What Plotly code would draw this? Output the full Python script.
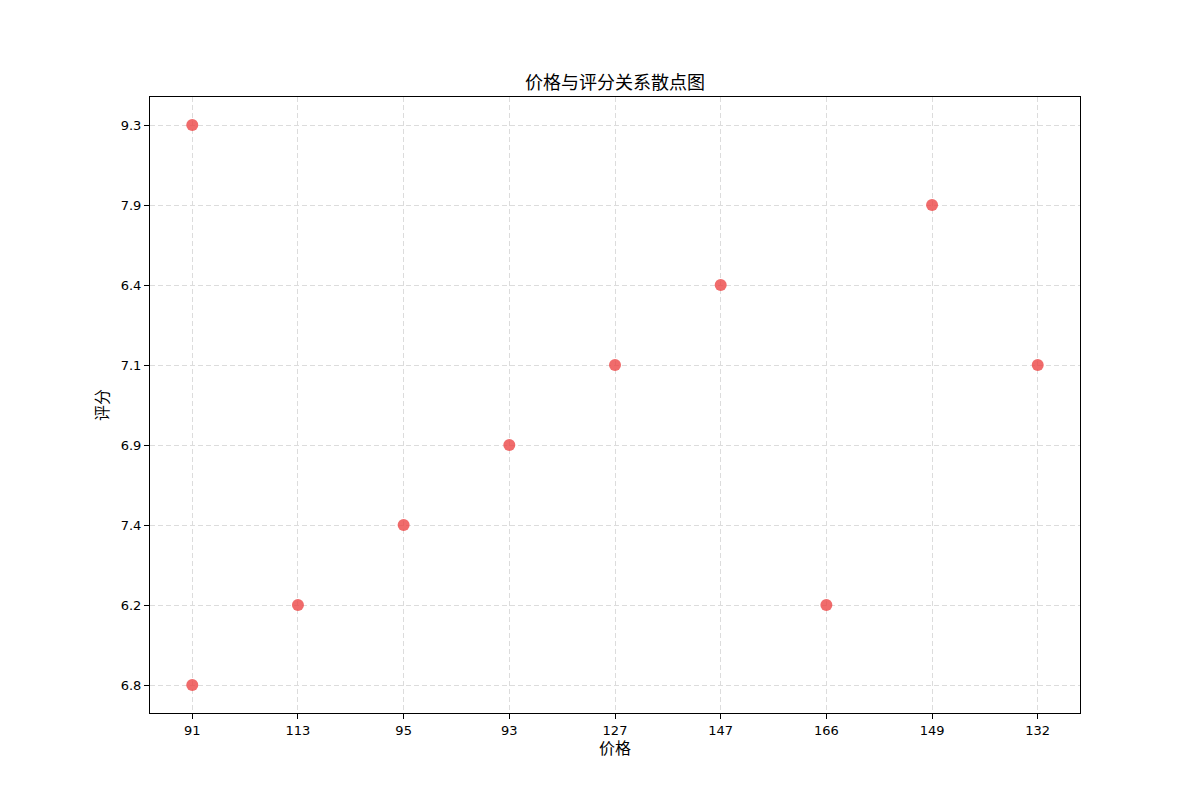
import plotly.graph_objects as go

x_categories = ["91", "113", "95", "93", "127", "147", "166", "149", "132"]
y_categories = ["6.8", "6.2", "7.4", "6.9", "7.1", "6.4", "7.9", "9.3"]

x_values = ["91", "113", "95", "93", "127", "147", "166", "149", "132", "91"]
y_values = ["6.8", "6.2", "7.4", "6.9", "7.1", "6.4", "6.2", "7.9", "7.1", "9.3"]

title_text = "价格与评分关系散点图"
x_label = "价格"
y_label = "评分"

font_family = "DejaVu Sans, Noto Sans CJK SC, sans-serif"

fig = go.Figure(
    go.Scatter(
        x=x_values,
        y=y_values,
        mode="markers",
        marker=dict(size=12, color="rgba(236,70,70,0.8)", line=dict(width=0)),
        showlegend=False,
    )
)

axis_common = dict(
    type="category",
    automargin=False,
    showline=True,
    linecolor="black",
    linewidth=1,
    mirror=True,
    ticks="outside",
    ticklen=5,
    tickcolor="black",
    showgrid=True,
    gridcolor="#dcdcdc",
    griddash="5px,3px",
    gridwidth=1,
    zeroline=False,
    tickfont=dict(size=13, color="black", family=font_family),
)

fig.update_xaxes(
    **axis_common,
    categoryorder="array",
    categoryarray=x_categories,
    range=[-0.4, len(x_categories) - 1 + 0.4],
    title=dict(text=x_label, font=dict(size=16, color="black", family=font_family), standoff=6),
)
fig.update_yaxes(
    **axis_common,
    categoryorder="array",
    categoryarray=y_categories,
    range=[-0.35, len(y_categories) - 1 + 0.35],
    title=dict(text=y_label, font=dict(size=16, color="black", family=font_family), standoff=8),
)

fig.update_layout(
    width=1200,
    height=800,
    margin=dict(l=142, r=128, t=89, b=95),
    plot_bgcolor="white",
    paper_bgcolor="white",
    font=dict(family=font_family, color="black"),
    title=dict(
        text=title_text,
        x=(142 + 465) / 1200,
        xanchor="center",
        y=1 - 75 / 800,
        yanchor="middle",
        font=dict(size=18, color="black", family=font_family),
    ),
)

fig.write_html("out.html")
